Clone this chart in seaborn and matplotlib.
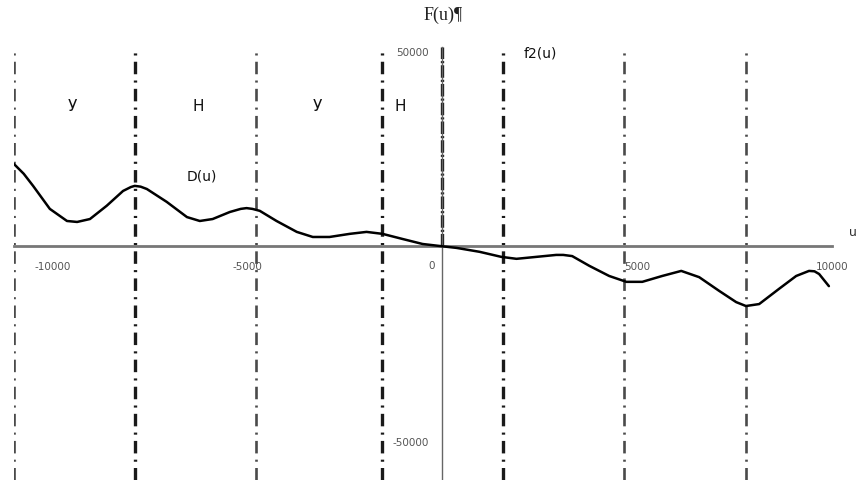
import numpy as np
import pandas as pd
import matplotlib
matplotlib.use("Agg")
import matplotlib.pyplot as plt
import seaborn as sns

# ---- data ----
u_vals = [-11000, -10750, -10510, -10080, -9640, -9380, -9050, -8620, -8200, -8000, -7900,
          -7750, -7590, -7080, -6560, -6230, -5900, -5460, -5180, -5030, -4880, -4690,
          -4260, -3740, -3330, -2900, -2380, -1950, -1540, -1030, -510, -80,
          360, 950, 1510, 1900, 2410, 2920, 3100, 3330, 3770, 4280, 4720,
          5130, 5640, 6130, 6590, 7100, 7540, 7790, 8130, 8640, 9080, 9410,
          9550, 9670, 9920]
d_vals = [21000, 18500, 15400, 9500, 6400, 6150, 6900, 10300, 14100, 15100, 15400,
          15200, 14600, 11300, 7400, 6400, 6900, 8700, 9500, 9700, 9500, 9000,
          6400, 3600, 2300, 2300, 3100, 3600, 3100, 1800, 500, 0,
          -500, -1500, -2800, -3300, -2800, -2300, -2300, -2600, -5100, -7700, -9200,
          -9200, -7700, -6400, -8000, -11500, -14400, -15400, -14900, -11000, -7700, -6400,
          -6500, -7200, -10300]

vline_pos = [-11000, -7900, -4800, -1550, 1550, 4650, 7800]
vline_bold = [False, True, False, True, True, False, False]

region_labels = ["У", "Н", "У", "Н"]
region_x = [-9510, -6280, -3210, -1080]
region_y = [35900, 35900, 35900, 35900]

xtick_major = [-10000, -5000, 5000, 10000]
xtick_labels = ["-10000", "-5000", "5000", "10000"]
ytick_major = [-50000, 50000]
ytick_labels = ["-50000", "50000"]

df = pd.DataFrame({"u": u_vals, "D": d_vals})

sns.set_style("white")
plt.rcParams["font.family"] = ["DejaVu Sans"]
plt.rcParams["lines.scale_dashes"] = False

W, H = 858, 481
fig = plt.figure(figsize=(W / 100, H / 100), dpi=100)
ax = fig.add_axes([14 / W, 0, (832 - 14) / W, (481 - 48) / H])
ax.set_xlim(-11000, 10000)
ax.set_ylim(-60000, 51000)

# vertical dash-dot lines
for xv, bold in zip(vline_pos, vline_bold):
    ax.axvline(xv, color="#1a1a1a" if bold else "#4a4a4a", lw=2.4 if bold else 1.9,
               linestyle=(0, (9, 4.5, 1.5, 4.5)), zorder=1)
# dash-dot along the positive y axis
ax.plot([0, 0], [0, 51000], color="#1a1a1a", lw=2.4,
        linestyle=(0, (9, 1.5, 1.5, 1.5)), zorder=1)

sns.lineplot(data=df, x="u", y="D", ax=ax, color="black", lw=1.8,
             sort=False, estimator=None, zorder=3)

# axes through origin
for s in ["top", "right"]:
    ax.spines[s].set_visible(False)
ax.spines["left"].set_position(("data", 0))
ax.spines["bottom"].set_position(("data", 0))
ax.spines["bottom"].set_color("#777777")
ax.spines["bottom"].set_linewidth(2.0)
ax.spines["left"].set_color("#666666")
ax.spines["left"].set_linewidth(1.0)

ax.set_xticks(xtick_major)
ax.set_xticklabels(xtick_labels)
ax.set_xticks(np.arange(-11000, 10001, 1000), minor=True)
ax.set_yticks(ytick_major)
ax.set_yticklabels(ytick_labels)
ax.set_yticks(np.arange(-60000, 50001, 10000), minor=True)
ax.tick_params(axis="both", which="both", direction="out", color="#666666",
               labelsize=7.5, labelcolor="#555555")
ax.tick_params(axis="x", which="major", length=3, pad=8)
ax.tick_params(axis="x", which="minor", length=2.5)
ax.tick_params(axis="y", which="major", length=3, pad=7)
ax.tick_params(axis="y", which="minor", length=2)
ax.set_xlabel("")
ax.set_ylabel("")

ax.text(-200, -5000, "0", ha="right", va="center", fontsize=7.5, color="#555555")

for lab, xx, yy in zip(region_labels, region_x, region_y):
    ax.text(xx, yy, lab, ha="center", va="center", fontsize=11, color="#111111")
ax.text(-6180, 18000, "D(u)", ha="center", va="center", fontsize=10, color="#111111")
ax.text(2500, 49700, "f2(u)", ha="center", va="center", fontsize=10, color="#111111")
ax.text(10550, 3800, "u", ha="center", va="center", fontsize=9, color="#333333",
        clip_on=False)

fig.text(443 / W, 1 - 15 / H, "F(u)¶", ha="center", va="center", fontsize=13,
         family=["Liberation Serif", "DejaVu Serif"], color="#222222")

fig.savefig("out.png", dpi=100, facecolor="white")
